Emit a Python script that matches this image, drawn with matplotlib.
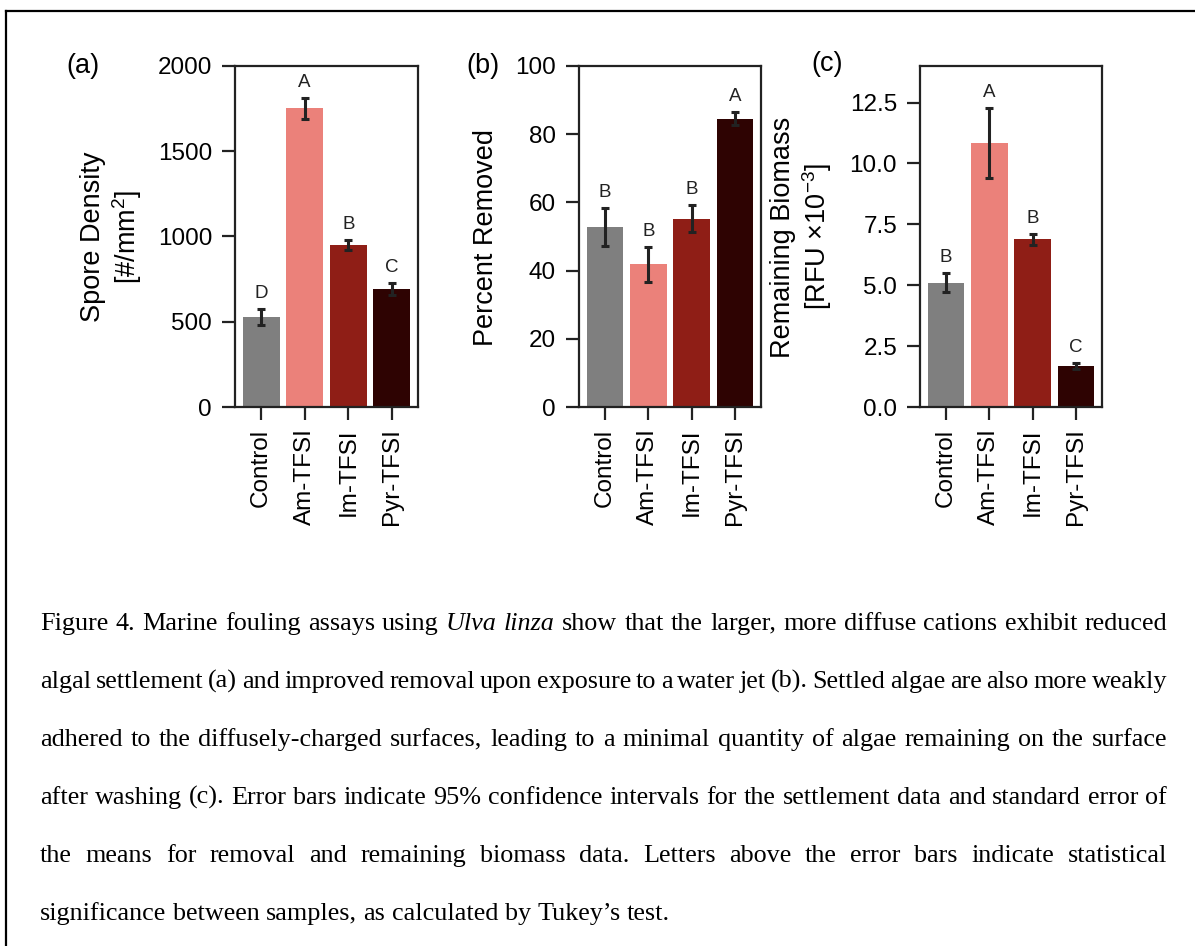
import matplotlib
matplotlib.use("Agg")
import matplotlib.pyplot as plt
from matplotlib.lines import Line2D

plt.rcParams['font.family'] = ['Liberation Sans', 'DejaVu Sans']
plt.rcParams['mathtext.fontset'] = 'custom'
plt.rcParams['mathtext.rm'] = 'Liberation Sans'
plt.rcParams['mathtext.it'] = 'Liberation Sans:italic'

samples = ["Control", "Am-TFSI", "Im-TFSI", "Pyr-TFSI"]
colors = ["#7f7f7f", "#eb817a", "#8f1e16", "#2e0302"]

# (a) settlement
spore = [526, 1752, 950, 692]
spore_err = [47, 60, 32, 38]
spore_grp = ["D", "A", "B", "C"]

# (b) removal
removed = [52.8, 41.8, 55.2, 84.6]
removed_err = [5.5, 5.0, 4.0, 2.0]
removed_grp = ["B", "B", "B", "A"]

# (c) remaining biomass
biomass = [5.11, 10.84, 6.88, 1.69]
biomass_err = [0.40, 1.44, 0.22, 0.12]
biomass_grp = ["B", "A", "B", "C"]

caption = [
    "Figure 4. Marine fouling assays using Ulva linza show that the larger, more diffuse cations exhibit reduced",
    "algal settlement (a) and improved removal upon exposure to a water jet (b). Settled algae are also more weakly",
    "adhered to the diffusely-charged surfaces, leading to a minimal quantity of algae remaining on the surface",
    "after washing (c). Error bars indicate 95% confidence intervals for the settlement data and standard error of",
    "the means for removal and remaining biomass data. Letters above the error bars indicate statistical",
    "significance between samples, as calculated by Tukey\u2019s test.",
]
italic_words = ["Ulva", "linza"]

W, H = 1195, 946
fig = plt.figure(figsize=(W / 100, H / 100), dpi=100)
ink = "#222222"


def box(l, r, t, b):
    return [l / W, 1 - b / H, (r - l) / W, (b - t) / H]


panels = [
    (box(235, 418, 66, 407), spore, spore_err, spore_grp, 2000, [0, 500, 1000, 1500, 2000], "{:.0f}",
     "Spore Density\n[#/mm$^2$]", (112, 237), "(a)", (83, 66)),
    (box(579, 761, 66, 407), removed, removed_err, removed_grp, 100, [0, 20, 40, 60, 80, 100], "{:.0f}",
     "Percent Removed", (486, 237), "(b)", (483, 66)),
    (box(920, 1102, 66, 407), biomass, biomass_err, biomass_grp, 14, [0, 2.5, 5, 7.5, 10, 12.5], "{:.1f}",
     "Remaining Biomass\n[RFU \u00d710$^{-3}$]", (802, 237), "(c)", (827, 64)),
]

for rect, vals, err, grp, top, ticks, fmt, ylab, ylpos, tag, tagpos in panels:
    ax = fig.add_axes(rect)
    x = range(len(samples))
    ax.bar(x, vals, width=0.85, color=colors, zorder=2)
    ax.errorbar(x, vals, yerr=err, fmt='none', ecolor=ink, elinewidth=2.2,
                capsize=3.2, capthick=2.2, zorder=3)
    for i in x:
        ax.annotate(grp[i], (i, vals[i] + err[i]), xytext=(0, 5), textcoords='offset points',
                    ha='center', va='bottom', fontsize=13.5, color=ink)
    ax.set_xlim(-0.6, 3.6)
    ax.set_ylim(0, top)
    ax.set_yticks(ticks)
    ax.set_yticklabels([fmt.format(t) for t in ticks])
    ax.set_xticks(list(x))
    ax.set_xticklabels(samples, rotation=90)
    for s in ax.spines.values():
        s.set_linewidth(1.6)
        s.set_color(ink)
    ax.tick_params(length=9.5, width=1.6, color=ink, labelsize=17.5, labelcolor="black")
    ax.tick_params(axis='y', pad=7)
    ax.tick_params(axis='x', pad=6)
    fig.text(ylpos[0] / W, 1 - ylpos[1] / H, ylab, rotation=90, ha='center', va='center',
             multialignment='center', fontsize=19.5, linespacing=1.2)
    fig.text(tagpos[0] / W, 1 - tagpos[1] / H, tag, ha='center', va='center', fontsize=19.5)

# outer frame (top and left edges visible)
fig.add_artist(Line2D([6 / W, 1], [1 - 11 / H] * 2, transform=fig.transFigure, color='black', lw=1.6))
fig.add_artist(Line2D([6 / W] * 2, [0, 1 - 11 / H], transform=fig.transFigure, color='black', lw=1.6))

# justified caption
renderer = fig.canvas.get_renderer()
x0, x1 = 40, 1167
base0, step = 630, 58
cap_kw = dict(family=['Liberation Serif', 'DejaVu Serif'], fontsize=18.8, va='baseline', ha='left')
probe_a = fig.text(0, 0, "a b", **cap_kw)
probe_b = fig.text(0, 0, "ab", **cap_kw)
space = probe_a.get_window_extent(renderer).width - probe_b.get_window_extent(renderer).width
probe_a.remove()
probe_b.remove()
for i, line in enumerate(caption):
    y = 1 - (base0 + i * step) / H
    words = line.split()
    texts = []
    for w in words:
        style = 'italic' if w in italic_words else 'normal'
        texts.append(fig.text(0, y, w, style=style, **cap_kw))
    widths = [t.get_window_extent(renderer).width for t in texts]
    if i < len(caption) - 1:
        gap = (x1 - x0 - sum(widths)) / (len(words) - 1)
    else:
        gap = space
    xp = x0
    for t, wd in zip(texts, widths):
        t.set_x(xp / W)
        xp += wd + gap

fig.savefig("out.png", dpi=100)
